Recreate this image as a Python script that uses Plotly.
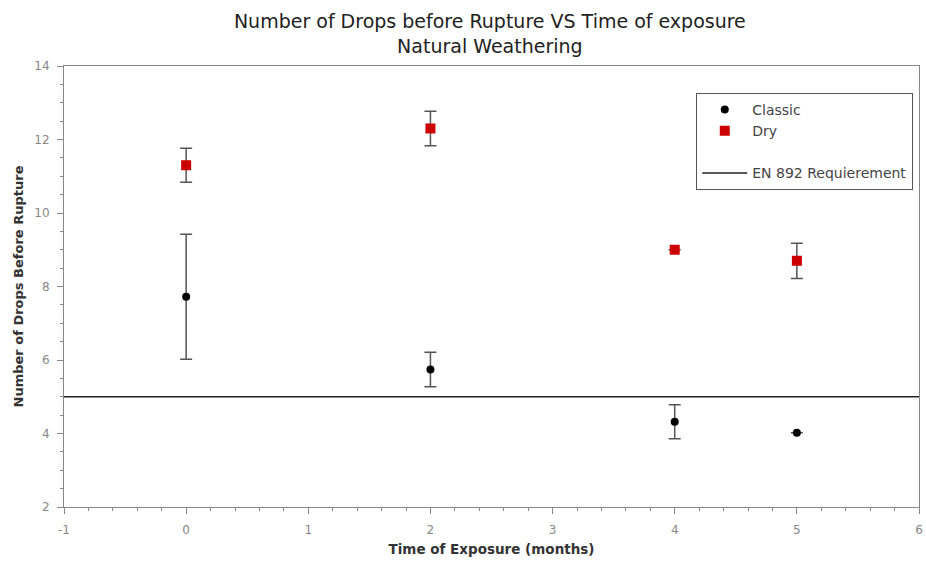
import plotly.graph_objects as go

months = [0, 2, 4, 5]
classic = [7.72, 5.74, 4.32, 4.02]
classic_err = [1.7, 0.47, 0.46, 0.0]
dry = [11.3, 12.3, 9.0, 8.7]
dry_err = [0.46, 0.47, 0.0, 0.48]
req_x = [-1, 6]
req_y = [5, 5]
x_ticks = [-1, 0, 1, 2, 3, 4, 5, 6]
x_labels = ["-1", "0", "1", "2", "3", "4", "5", "6"]
y_ticks = [2, 4, 6, 8, 10, 12, 14]

FONT = "DejaVu Sans"

fig = go.Figure()
fig.add_trace(go.Scatter(
    x=months, y=classic, mode="markers", name="Classic", legendgroup="a",
    marker=dict(color="black", size=8, symbol="circle"),
    error_y=dict(type="data", array=classic_err, color="#555555", thickness=1.5, width=6),
))
fig.add_trace(go.Scatter(
    x=months, y=dry, mode="markers", name="Dry", legendgroup="a",
    marker=dict(color="#cc0000", size=10, symbol="square"),
    error_y=dict(type="data", array=dry_err, color="#555555", thickness=1.5, width=6),
))
fig.add_trace(go.Scatter(
    x=req_x, y=req_y, mode="lines", name="EN 892 Requierement", legendgroup="b",
    line=dict(color="#222222", width=1.5),
))

axis_common = dict(
    showgrid=False, zeroline=False, showline=True, linecolor="#888888", linewidth=1,
    mirror=True, ticks="outside", ticklen=6, tickcolor="#888888", automargin=False,
    ticklabeloverflow="allow",
    tickfont=dict(family=FONT, size=12, color="#888888"),
)
fig.update_xaxes(
    range=[-1, 6], tickmode="array", tickvals=x_ticks, ticktext=x_labels,
    ticklabelstandoff=6,
    minor=dict(dtick=0.2, tick0=-1, ticks="outside", ticklen=3, tickcolor="#888888"),
    title=dict(text="<b>Time of Exposure (months)</b>", font=dict(family=FONT, size=13.5, color="#333333"), standoff=8),
    **axis_common,
)
fig.update_yaxes(
    range=[2, 14], tickmode="array", tickvals=y_ticks,
    ticklabelstandoff=5,
    minor=dict(dtick=0.5, tick0=2, ticks="outside", ticklen=3, tickcolor="#888888"),
    title=dict(text="<b>Number of Drops Before Rupture</b>", font=dict(family=FONT, size=13, color="#333333"), standoff=7),
    **axis_common,
)
fig.update_layout(
    width=926, height=561,
    paper_bgcolor="white", plot_bgcolor="white",
    margin=dict(l=64, r=7, t=66, b=54),
    title=dict(text="Number of Drops before Rupture VS Time of exposure<br>Natural Weathering",
               x=0.529, xanchor="center", y=0.950, yanchor="top",
               font=dict(family=FONT, size=19, color="#222222")),
    legend=dict(x=0.7395, y=0.939, xanchor="left", yanchor="top",
                bordercolor="#555555", borderwidth=1, bgcolor="white",
                font=dict(family=FONT, size=14, color="#444444"),
                itemwidth=45,
                traceorder="grouped", tracegroupgap=21),
    showlegend=True,
)
fig.write_html("out.html",
               config={"displayModeBar": False},
               post_script="document.body.style.margin='0px';document.body.style.overflow='hidden';")
